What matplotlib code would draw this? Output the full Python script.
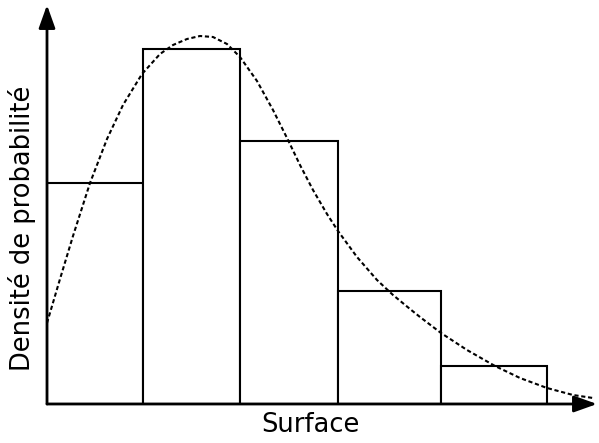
import matplotlib.pyplot as plt
import numpy as np

# bin edges and histogram heights (arbitrary units)
edges = [0.0, 0.96, 1.93, 2.91, 3.94, 5.00]
heights = [2.21, 3.55, 2.63, 1.13, 0.38]

# density curve, points
curve_x = [0.00, 0.13, 0.26, 0.43, 0.60, 0.76, 0.95, 1.13, 1.26, 1.40, 1.53,
           1.66, 1.80, 1.93, 2.10, 2.26, 2.41, 2.53, 2.66, 2.80, 2.91, 3.10,
           3.30, 3.46, 3.63, 3.73, 3.94, 4.20, 4.48, 4.73, 5.00, 5.26, 5.46]
curve_y = [0.81, 1.25, 1.68, 2.21, 2.65, 2.99, 3.30, 3.50, 3.59, 3.65, 3.68,
           3.67, 3.60, 3.47, 3.23, 2.94, 2.64, 2.39, 2.14, 1.90, 1.73, 1.47,
           1.24, 1.09, 0.95, 0.87, 0.71, 0.54, 0.38, 0.26, 0.16, 0.09, 0.06]

fig = plt.figure(figsize=(5.99, 4.43), dpi=100)
ax = fig.add_axes([47/599, 39/443, 550/599, 399/443])
ax.set_xlim(0, 5.5)
ax.set_ylim(0, 3.99)
for s in ax.spines.values():
    s.set_visible(False)
ax.set_xticks([])
ax.set_yticks([])

ax.bar(edges[:-1], heights, width=np.diff(edges), align="edge",
       facecolor="white", edgecolor="black", linewidth=1.5, zorder=2)
ax.plot(curve_x, curve_y, color="black", linestyle=(0, (2, 1.3)),
        linewidth=1.5, zorder=3, clip_on=False)

arrow = dict(arrowstyle="-|>,head_length=1.4,head_width=0.5",
             color="black", lw=2, shrinkA=0, shrinkB=0)
ax.annotate("", xy=(1, 0), xytext=(0, 0), xycoords="axes fraction",
            arrowprops=arrow, zorder=4)
ax.annotate("", xy=(0, 1), xytext=(0, 0), xycoords="axes fraction",
            arrowprops=arrow, zorder=4)

fig.text(310/599, 1 - 425/443, "Surface", fontsize=18.5,
         ha="center", va="center")
fig.text(22/599, 1 - 228/443, "Densité de probabilité", fontsize=18.5,
         ha="center", va="center", rotation=90)

fig.savefig("out.png", dpi=100)
